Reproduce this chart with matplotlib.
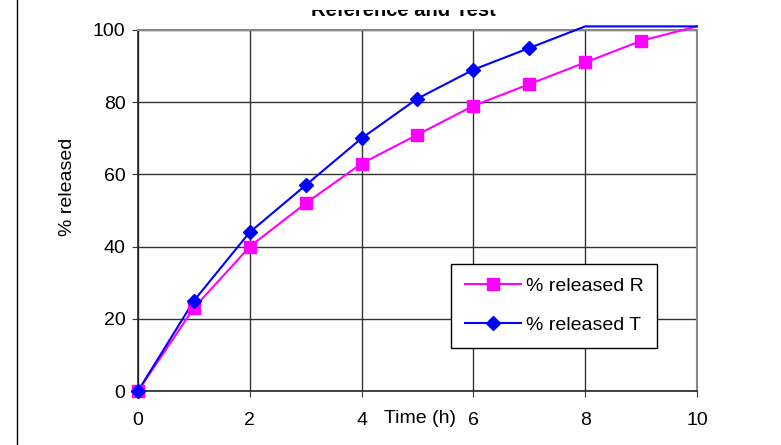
import matplotlib
matplotlib.use("Agg")
import numpy as np
import matplotlib.pyplot as plt
from matplotlib.lines import Line2D
from matplotlib.transforms import Bbox, TransformedBbox

plt.rcParams['font.family'] = ['Liberation Sans', 'DejaVu Sans']

time_h = [0, 1, 2, 3, 4, 5, 6, 7, 8, 9, 10]
released_R = [0, 23, 40, 52, 63, 71, 79, 85, 91, 97, 101]
released_T = [0, 25, 44, 57, 70, 81, 89, 95, 101, 101, 101]

fig = plt.figure(figsize=(7.81, 4.45), dpi=100)
ax = fig.add_axes([0.1767, 0.1213, 0.7157, 0.8113])

series = [
    (released_R, '#ff00ff', 's', 8.5, '% released R'),
    (released_T, '#0000ff', 'D', 7.5, '% released T'),
]
handles = []
for vals, col, mk, ms, lab in series:
    # line runs past the top of the plot, markers above 100 are hidden
    ax.plot(time_h, vals, color=col, linewidth=1.5, clip_on=False, zorder=3)
    ax.plot(time_h, np.ma.masked_greater(vals, 100), linestyle='none',
            color=col, marker=mk, markersize=ms, clip_on=False, zorder=4)
    handles.append(Line2D([], [], color=col, linewidth=1.5, marker=mk,
                          markersize=ms, label=lab))

ax.set_xlim(0, 10)
ax.set_ylim(0, 100)
ax.set_xticks(range(0, 11, 2))
ax.set_yticks(range(0, 101, 20))
ax.grid(True, color='#333333', linewidth=1.0)
ax.set_axisbelow(True)

for s in ['top', 'right']:
    ax.spines[s].set_color('#888888')
    ax.spines[s].set_linewidth(1.5)
for s in ['left', 'bottom']:
    ax.spines[s].set_color('#222222')
    ax.spines[s].set_linewidth(1.2)

ax.tick_params(axis='both', direction='out', length=4, labelsize=14, color='#333333')
ax.tick_params(axis='x', pad=11)
ax.tick_params(axis='y', pad=5)

fig.text(0.087, 0.580, '% released', fontsize=14, rotation=90,
         ha='center', va='center')
fig.text(0.538, 0.06, 'Time (h)', fontsize=14, ha='center', va='center')

# title is cut off at the top in the original
title = fig.text(0.517, 0.964, 'Reference and Test', fontsize=14.5,
                 fontweight='bold', ha='center', va='baseline')
title.set_clip_box(TransformedBbox(Bbox([[0, 0], [1, 1 - 10 / 445]]),
                                   fig.transFigure))
title.set_clip_on(True)

fig.add_artist(Line2D([0.022, 0.022], [0, 1], color='black', linewidth=1,
                      transform=fig.transFigure))

leg = ax.legend(handles=handles, loc='upper left', bbox_to_anchor=(0.56, 0.3518),
                borderaxespad=0, frameon=True, fancybox=False, edgecolor='black',
                fontsize=14, handlelength=2.9, borderpad=0.7, labelspacing=1.1,
                handletextpad=0.25)
leg.get_frame().set_linewidth(1.0)
leg.get_frame().set_alpha(1)

fig.savefig('out.png', dpi=100)
